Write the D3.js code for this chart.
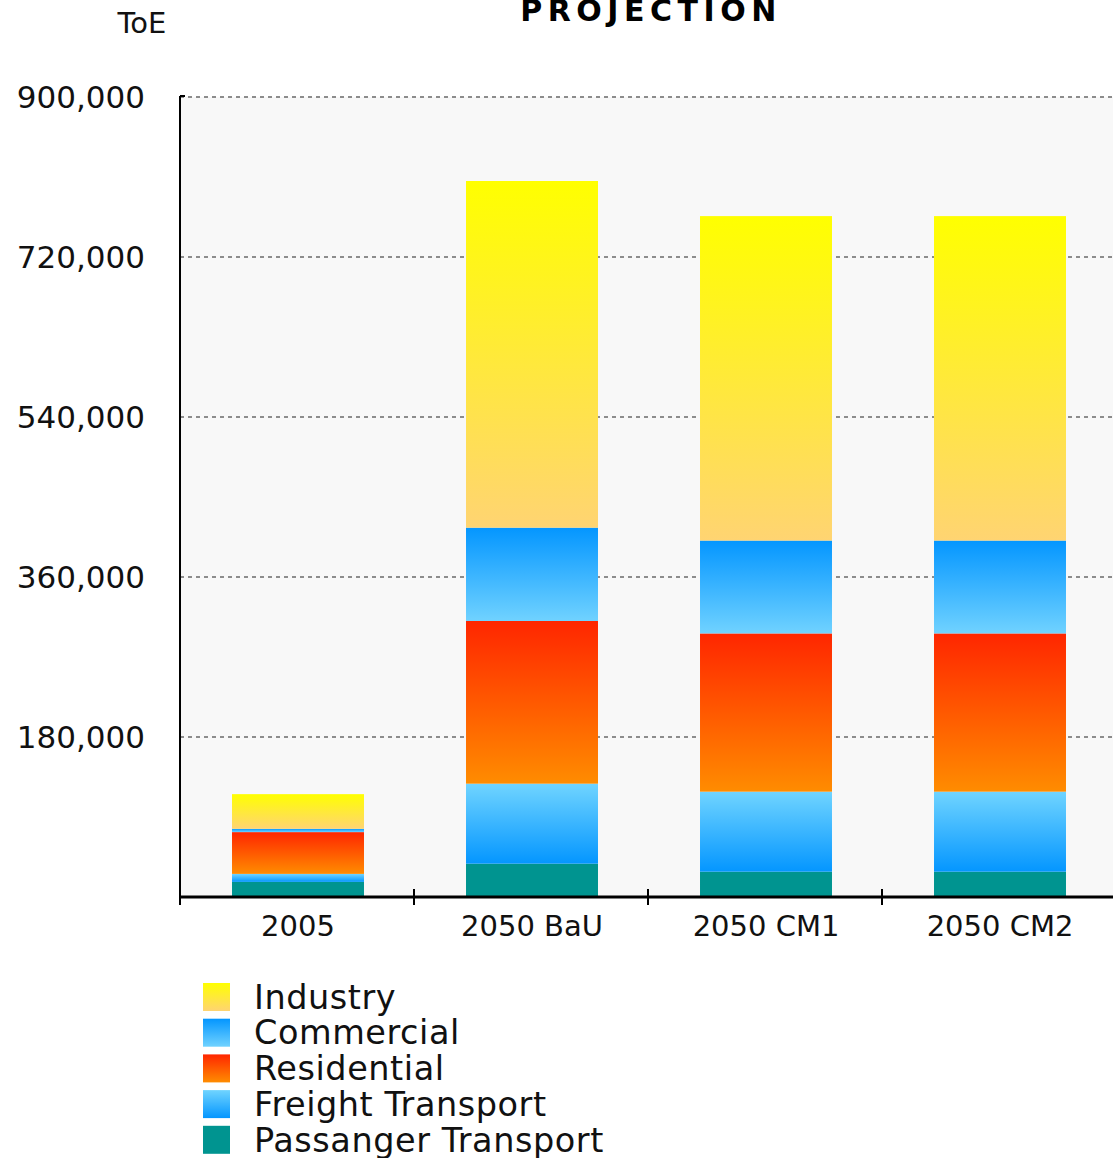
<!DOCTYPE html>
<html><head><meta charset="utf-8">
<script src="https://cdn.jsdelivr.net/npm/d3@7"></script>
<style>body{margin:0;background:#fff;}svg{display:block;font-family:"DejaVu Sans",sans-serif;}</style>
</head><body><div id="chart"></div>
<script>
const categories = ["2005", "2050 BaU", "2050 CM1", "2050 CM2"];
const seriesNames = ["Passanger Transport", "Freight Transport", "Residential", "Commercial", "Industry"];
const passenger = [17000, 37500, 28500, 28500];
const freight = [9000, 90000, 90000, 90000];
const residential = [47000, 183000, 178000, 178000];
const commercial = [3700, 105000, 104500, 104500];
const industry = [39000, 390000, 365000, 365000];
const yTicks = [180000, 360000, 540000, 720000, 900000];
const legendOrder = ["Industry", "Commercial", "Residential", "Freight Transport", "Passanger Transport"];
const yTitle = "ToE";
const title = "PROJECTION";

const W = 1113, H = 1158;
const m = {left: 180, top: 97, bottom: 897};
const svg = d3.select("#chart").append("svg").attr("width", W).attr("height", H);

const gradStops = {
  "Industry": ["#ffff00", "#ffd472"],
  "Commercial": ["#0496ff", "#70d2ff"],
  "Residential": ["#ff2600", "#ff8c00"],
  "Freight Transport": ["#70d4ff", "#0496ff"],
  "Passanger Transport": ["#009490", "#009490"]
};
const defs = svg.append("defs");
seriesNames.forEach((s, i) => {
  const g = defs.append("linearGradient").attr("id", "g" + i).attr("x1", 0).attr("x2", 0).attr("y1", 0).attr("y2", 1);
  g.append("stop").attr("offset", "0%").attr("stop-color", gradStops[s][0]);
  g.append("stop").attr("offset", "100%").attr("stop-color", gradStops[s][1]);
});
const fillOf = s => "url(#g" + seriesNames.indexOf(s) + ")";

const x = d3.scaleBand().domain(categories).range([m.left + 1, m.left + 1 + 4 * 234]).paddingInner(0.436).paddingOuter(0.218);
const y = d3.scaleLinear().domain([0, 900000]).range([m.bottom, m.top]);

// plot background
svg.append("rect").attr("x", m.left).attr("y", m.top).attr("width", W - m.left).attr("height", m.bottom - m.top).attr("fill", "#f8f8f8");

// gridlines
svg.append("g").selectAll("line").data(yTicks).join("line")
  .attr("x1", m.left).attr("x2", W).attr("y1", d => y(d)).attr("y2", d => y(d))
  .attr("stroke", "#8c8c8c").attr("stroke-width", 2).attr("stroke-dasharray", "4,4");

// stacked data
const rows = categories.map((c, i) => ({
  cat: c,
  "Passanger Transport": passenger[i],
  "Freight Transport": freight[i],
  "Residential": residential[i],
  "Commercial": commercial[i],
  "Industry": industry[i]
}));
const stack = d3.stack().keys(seriesNames)(rows);
svg.append("g").selectAll("g").data(stack).join("g")
  .attr("fill", d => fillOf(d.key))
  .selectAll("rect").data(d => d).join("rect")
  .attr("x", d => x(d.data.cat)).attr("width", x.bandwidth())
  .attr("y", d => y(d[1])).attr("height", d => y(d[0]) - y(d[1]));

// y axis labels
svg.append("g").selectAll("text").data(yTicks).join("text")
  .attr("x", 145).attr("y", d => y(d)).attr("dy", "0.35em").attr("text-anchor", "end")
  .attr("font-size", 31).attr("fill", "#111").text(d => d3.format(",")(d));

// left axis line
svg.append("line").attr("x1", m.left).attr("x2", m.left).attr("y1", m.top - 1).attr("y2", m.bottom)
  .attr("stroke", "#000").attr("stroke-width", 2);
svg.append("line").attr("x1", m.left).attr("x2", m.left + 5).attr("y1", m.top - 1).attr("y2", m.top - 1)
  .attr("stroke", "#000").attr("stroke-width", 2);

// x axis
const xa = svg.append("g").attr("transform", `translate(0,${m.bottom})`);
xa.append("line").attr("x1", m.left - 1).attr("x2", W).attr("y1", 0).attr("y2", 0).attr("stroke", "#000").attr("stroke-width", 3);
const tickPos = d3.range(categories.length).map(i => m.left + i * x.step());
xa.selectAll("line.t").data(tickPos).join("line").attr("class", "t")
  .attr("x1", d => d).attr("x2", d => d).attr("y1", -8).attr("y2", 8).attr("stroke", "#000").attr("stroke-width", 2);
xa.selectAll("text").data(categories).join("text")
  .attr("x", d => x(d) + x.bandwidth() / 2).attr("y", 39).attr("text-anchor", "middle")
  .attr("font-size", 29).attr("fill", "#111").text(d => d);

// titles
svg.append("text").attr("x", 142).attr("y", 33).attr("text-anchor", "middle").attr("font-size", 29).attr("fill", "#111").text(yTitle);
svg.append("text").attr("x", 651).attr("y", 21).attr("text-anchor", "middle").attr("font-size", 30).attr("font-weight", "bold")
  .attr("letter-spacing", 5.5).attr("fill", "#000").text(title);

// legend
const lg = svg.append("g").selectAll("g").data(legendOrder).join("g")
  .attr("transform", (d, i) => `translate(203,${983 + i * 35.7})`);
lg.append("rect").attr("width", 27).attr("height", 28).attr("fill", d => fillOf(d));
lg.append("text").attr("x", 51).attr("y", 14).attr("dy", "0.35em").attr("font-size", 33.5).attr("letter-spacing", 0.55).attr("fill", "#111").text(d => d);
</script></body></html>
